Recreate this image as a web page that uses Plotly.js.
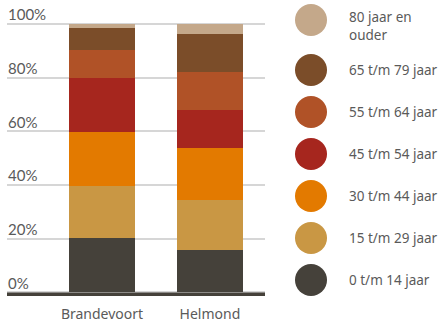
<!DOCTYPE html>
<html>
<head>
<meta charset="utf-8">
<script src="https://cdn.plot.ly/plotly-3.0.1.min.js"></script>
<style>html,body{margin:0;padding:0;background:#fff;}#chart{width:438px;height:323px;}</style>
</head>
<body>
<div id="chart"></div>
<script>
var categories = ['Brandevoort', 'Helmond'];
var groups = ['0 t/m 14 jaar', '15 t/m 29 jaar', '30 t/m 44 jaar', '45 t/m 54 jaar', '55 t/m 64 jaar', '65 t/m 79 jaar', '80 jaar en ouder'];
var legendLabels = ['0 t/m 14 jaar', '15 t/m 29 jaar', '30 t/m 44 jaar', '45 t/m 54 jaar', '55 t/m 64 jaar', '65 t/m 79 jaar', '80 jaar en<br>ouder'];
var brandevoort = [20.1, 19.6, 20.0, 20.2, 10.4, 8.2, 1.5];
var helmond = [15.7, 18.7, 19.4, 14.2, 14.2, 14.2, 3.6];
var tickValues = [0, 20, 40, 60, 80, 100];
var tickLabels = ['0%', '20%', '40%', '60%', '80%', '100%'];
var colors = ['#45413a', '#c99744', '#e37a00', '#a6261e', '#b05227', '#7b4d29', '#c4a88a'];

var W = 438, H = 323;
var traces = [];
groups.forEach(function (g, i) {
  traces.push({
    type: 'bar', name: g, x: categories, y: [brandevoort[i], helmond[i]],
    marker: {color: colors[i], line: {width: 0}}, width: 0.61,
    hoverinfo: 'none', showlegend: false, xaxis: 'x', yaxis: 'y'
  });
});

// custom legend (pixel coordinates on a hidden overlay axis)
var lx = [], ly = [], annotations = [];
groups.forEach(function (g, i) {
  var cy = 280 - i * 42 - (i === groups.length - 1 ? 8 : 0);
  lx.push(311); ly.push(cy);
  annotations.push({
    xref: 'x2', yref: 'y2', x: 347, y: cy + (i === groups.length - 1 ? 6 : 0),
    xanchor: 'left', yanchor: 'middle', align: 'left', showarrow: false,
    text: legendLabels[i], font: {family: 'Noto Sans', size: 13.5, color: '#5a5a5a'}
  });
});
traces.push({
  type: 'scatter', mode: 'markers', x: lx, y: ly, xaxis: 'x2', yaxis: 'y2',
  marker: {size: 32, color: colors, line: {width: 0}}, cliponaxis: false,
  hoverinfo: 'none', showlegend: false
});

var layout = {
  width: W, height: H,
  margin: {l: 0, r: 0, t: 0, b: 0, pad: 0},
  paper_bgcolor: '#fff', plot_bgcolor: 'rgba(0,0,0,0)',
  barmode: 'stack', bargap: 0,
  showlegend: false,
  xaxis: {
    domain: [7 / W, 265 / W], range: [-0.88, 1.51], type: 'category',
    showgrid: false, zeroline: false, showline: false, ticks: '',
    tickfont: {family: 'Noto Sans', size: 14, color: '#5a5a5a'},
    ticklabelstandoff: 8
  },
  yaxis: {
    domain: [(H - 296) / H, (H - 4) / H], range: [-1.34, 107.45],
    tickvals: tickValues, ticktext: tickLabels,
    ticklabelposition: 'inside', ticklabelshift: -9, ticklabelstandoff: -2,
    ticks: '', showline: false, zeroline: false,
    showgrid: true, gridcolor: '#d6d6d6', gridwidth: 2,
    tickfont: {family: 'Lato', size: 15, color: '#5a5a5a'}
  },
  xaxis2: {domain: [0, 1], range: [0, W], visible: false, fixedrange: true},
  yaxis2: {domain: [0, 1], range: [H, 0], visible: false, fixedrange: true},
  shapes: [{
    type: 'line', xref: 'x domain', yref: 'y', x0: 0, x1: 1, y0: -0.65, y1: -0.65,
    line: {color: '#45413a', width: 3.5}, layer: 'above'
  }],
  annotations: annotations
};

Plotly.newPlot('chart', traces, layout, {staticPlot: true, displayModeBar: false});
</script>
</body>
</html>
